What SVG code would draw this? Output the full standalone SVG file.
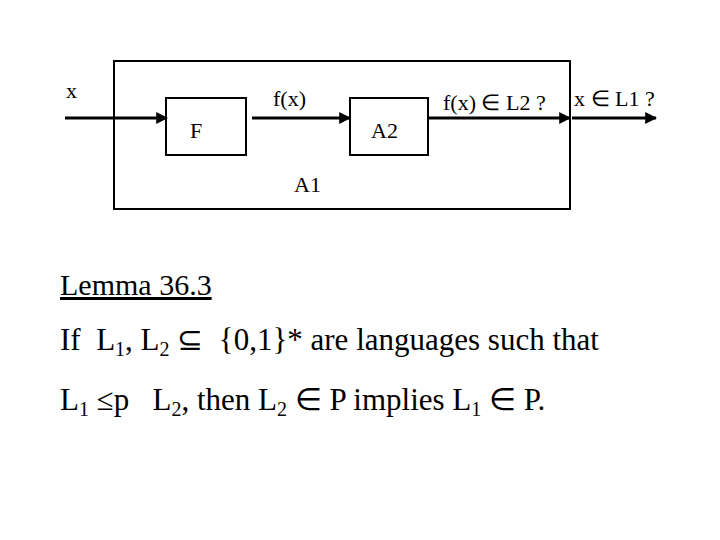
<svg xmlns="http://www.w3.org/2000/svg" width="720" height="540" viewBox="0 0 720 540">
<style>
text{font-family:"Liberation Serif","Times New Roman",serif;fill:#000;white-space:pre}
.s{font-size:22px}.b{font-size:31px}
.box{fill:none;stroke:#000;stroke-width:2}
.c{stroke:#000;stroke-width:3;fill:none;marker-end:url(#a)}
</style>
<defs><marker id="a" viewBox="0 0 10 10" refX="9" refY="5" markerWidth="4" markerHeight="4" orient="auto"><path d="M0,0L10,5L0,10z" fill="#000"/></marker></defs>
<rect width="720" height="540" fill="#fff"/>
<g id="A1"><rect class="box" x="114" y="61" width="456" height="148"/><text class="s" x="294" y="192">A1</text></g>
<g id="F"><rect class="box" x="166" y="98" width="80" height="57"/><text class="s" x="190" y="138">F</text></g>
<g id="A2"><rect class="box" x="350" y="98" width="78" height="57"/><text class="s" x="371" y="138">A2</text></g>
<g id="connectors">
<path class="c" d="M65,118H167"/>
<path class="c" d="M252,118H350"/>
<path class="c" d="M428,118H570"/>
<path class="c" d="M572,118H656"/>
</g>
<text class="s" x="66" y="98">x</text>
<text class="s" x="273" y="106">f(x)</text>
<text class="s" x="443" y="110">f(x) ∈ L2 ?</text>
<text class="s" x="574" y="106">x ∈ L1 ?</text>
<text x="60" y="295" font-size="30" text-decoration="underline">Lemma 36.3</text>
<text class="b" x="60" y="350">If  L<tspan font-size="20" dy="6">1</tspan><tspan dy="-6">, L</tspan><tspan font-size="20" dy="6">2</tspan><tspan dy="-6"> ⊆  {0,1}* are languages such that</tspan></text>
<text class="b" x="60" y="410">L<tspan font-size="20" dy="6">1</tspan><tspan dy="-6"> ≤p   L</tspan><tspan font-size="20" dy="6">2</tspan><tspan dy="-6">, then L</tspan><tspan font-size="20" dy="6">2</tspan><tspan dy="-6"> ∈ P implies L</tspan><tspan font-size="20" dy="6">1</tspan><tspan dy="-6"> ∈ P.</tspan></text>
</svg>
